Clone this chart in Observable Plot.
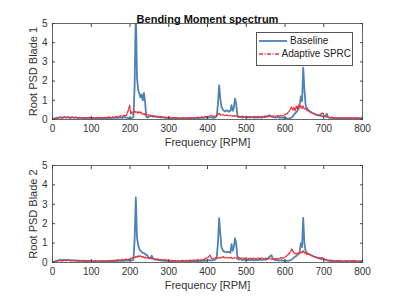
<!DOCTYPE html>
<html><head><meta charset="utf-8">
<script src="https://cdn.jsdelivr.net/npm/d3@7"></script>
<script src="https://cdn.jsdelivr.net/npm/@observablehq/plot@0.6"></script>
<style>
body{margin:0;background:#fff;font-family:"Liberation Sans",Arial,sans-serif;}
#wrap{position:relative;width:399px;height:299px;}
#wrap svg{display:block;}
.legend{position:absolute;left:256px;top:32px;width:95px;height:32px;border:1px solid #555;background:#fff;font-size:10px;color:#222;}
.legend .row{position:absolute;left:2px;width:92px;height:13px;display:flex;align-items:center;white-space:nowrap;}
.legend .row span{margin-left:3px;white-space:nowrap;}
</style></head>
<body><div id="wrap"></div>
<script>
const title = "Bending Moment spectrum";
const xLabel = "Frequency [RPM]";
const yLabels = ["Root PSD Blade 1", "Root PSD Blade 2"];
const seriesNames = ["Baseline", "Adaptive SPRC"];
const xTicks = [0,100,200,300,400,500,600,700,800];
const yTicks = [0,1,2,3,4,5];
const colors = ["#4f81b3", "#e8353c"];

const blade1Baseline = [[0,0.02],[5,0.05],[10,0.08],[15,0.1],[20,0.12],[25,0.1],[30,0.13],[35,0.11],[40,0.12],[45,0.09],[50,0.12],[55,0.1],[60,0.11],[65,0.08],[70,0.1],[75,0.09],[80,0.07],[85,0.09],[90,0.08],[95,0.1],[100,0.07],[105,0.08],[110,0.06],[115,0.08],[120,0.07],[125,0.06],[130,0.08],[135,0.06],[140,0.07],[145,0.08],[150,0.06],[155,0.09],[160,0.08],[165,0.1],[170,0.09],[175,0.11],[180,0.09],[185,0.12],[190,0.1],[195,0.08],[200,0.06],[205,0.07],[209,0.15],[212,1.8],[215,5.8],[218,2.2],[221,1.55],[224,1.35],[227,1.15],[230,1.3],[233,1.0],[236,1.38],[239,0.9],[242,0.15],[246,0.1],[250,0.16],[255,0.2],[260,0.14],[265,0.18],[270,0.12],[275,0.15],[280,0.1],[285,0.12],[290,0.08],[295,0.09],[300,0.07],[305,0.08],[310,0.06],[315,0.07],[320,0.05],[325,0.06],[330,0.05],[335,0.06],[340,0.05],[345,0.07],[350,0.06],[355,0.07],[360,0.06],[365,0.08],[370,0.07],[375,0.09],[380,0.07],[385,0.1],[390,0.08],[395,0.11],[400,0.09],[405,0.12],[410,0.1],[415,0.08],[420,0.1],[424,0.2],[427,0.8],[430,1.78],[433,1.1],[436,0.65],[440,0.5],[445,0.42],[450,0.48],[455,0.4],[459,0.45],[462,0.75],[465,0.45],[468,0.6],[471,1.08],[474,0.85],[477,0.2],[480,0.12],[485,0.14],[490,0.1],[495,0.13],[500,0.09],[505,0.12],[510,0.1],[515,0.13],[520,0.09],[525,0.11],[530,0.1],[535,0.12],[540,0.09],[545,0.14],[550,0.12],[555,0.18],[560,0.22],[565,0.15],[570,0.12],[575,0.1],[580,0.13],[585,0.09],[590,0.11],[595,0.08],[600,0.1],[605,0.06],[610,0.05],[615,0.08],[620,0.15],[625,0.3],[630,0.4],[635,0.55],[638,0.8],[641,1.2],[644,0.95],[647,2.7],[650,1.6],[653,0.8],[656,0.6],[660,0.5],[665,0.42],[670,0.35],[675,0.3],[680,0.25],[685,0.22],[690,0.2],[695,0.18],[700,0.15],[705,0.2],[708,0.3],[711,0.12],[715,0.08],[720,0.1],[725,0.07],[730,0.06],[735,0.08],[740,0.05],[745,0.06],[750,0.05],[755,0.07],[760,0.05],[765,0.06],[770,0.05],[775,0.06],[780,0.05],[785,0.07],[790,0.05],[795,0.06],[800,0.05]];

const blade1Adaptive = [[0,0.02],[5,0.04],[10,0.06],[15,0.08],[20,0.1],[25,0.07],[30,0.11],[35,0.09],[40,0.12],[45,0.08],[50,0.1],[55,0.09],[60,0.11],[65,0.07],[70,0.09],[75,0.1],[80,0.08],[85,0.1],[90,0.07],[95,0.09],[100,0.08],[105,0.1],[110,0.07],[115,0.09],[120,0.08],[125,0.1],[130,0.09],[135,0.11],[140,0.1],[145,0.13],[150,0.1],[155,0.14],[160,0.12],[165,0.16],[170,0.13],[175,0.2],[180,0.15],[185,0.22],[190,0.18],[193,0.35],[196,0.5],[199,0.75],[202,0.3],[205,0.4],[208,0.28],[211,0.45],[214,0.38],[217,0.42],[220,0.32],[223,0.4],[226,0.35],[229,0.38],[232,0.27],[235,0.33],[238,0.25],[241,0.3],[245,0.22],[250,0.25],[255,0.18],[260,0.2],[265,0.15],[270,0.17],[275,0.13],[280,0.15],[285,0.11],[290,0.13],[295,0.1],[300,0.12],[305,0.09],[310,0.11],[315,0.08],[320,0.1],[325,0.09],[330,0.07],[335,0.09],[340,0.08],[345,0.1],[350,0.07],[355,0.09],[360,0.08],[365,0.1],[370,0.09],[375,0.12],[380,0.1],[385,0.14],[390,0.11],[395,0.16],[400,0.13],[405,0.18],[410,0.22],[415,0.15],[420,0.18],[425,0.2],[430,0.32],[435,0.22],[440,0.25],[445,0.2],[450,0.24],[455,0.18],[460,0.22],[465,0.17],[470,0.2],[475,0.15],[480,0.18],[485,0.14],[490,0.17],[495,0.13],[500,0.16],[505,0.12],[510,0.15],[515,0.13],[520,0.17],[525,0.14],[530,0.16],[535,0.13],[540,0.17],[545,0.15],[550,0.18],[555,0.14],[560,0.17],[565,0.15],[570,0.19],[575,0.16],[580,0.2],[585,0.17],[590,0.22],[595,0.18],[600,0.25],[605,0.3],[610,0.4],[614,0.55],[617,0.65],[620,0.5],[623,0.62],[626,0.45],[629,0.7],[632,0.55],[635,0.75],[638,0.6],[641,0.72],[644,0.58],[647,0.7],[650,0.55],[653,0.6],[656,0.48],[660,0.45],[665,0.38],[670,0.33],[675,0.3],[680,0.25],[685,0.22],[690,0.25],[695,0.3],[698,0.36],[701,0.2],[705,0.15],[710,0.12],[715,0.1],[720,0.12],[725,0.09],[730,0.1],[735,0.08],[740,0.1],[745,0.07],[750,0.09],[755,0.08],[760,0.1],[765,0.07],[770,0.09],[775,0.08],[780,0.1],[785,0.07],[790,0.09],[795,0.08],[800,0.09]];

const blade2Baseline = [[0,0.02],[5,0.05],[10,0.08],[15,0.11],[20,0.13],[25,0.12],[30,0.14],[35,0.12],[40,0.13],[45,0.11],[50,0.12],[55,0.1],[60,0.11],[65,0.09],[70,0.1],[75,0.08],[80,0.09],[85,0.07],[90,0.08],[95,0.06],[100,0.07],[105,0.06],[110,0.05],[115,0.06],[120,0.05],[125,0.06],[130,0.05],[135,0.06],[140,0.05],[145,0.07],[150,0.06],[155,0.07],[160,0.08],[165,0.07],[170,0.09],[175,0.08],[180,0.1],[185,0.09],[190,0.11],[195,0.1],[200,0.12],[205,0.1],[209,0.15],[212,1.2],[215,3.35],[218,1.3],[221,0.9],[224,0.7],[227,0.6],[230,0.55],[233,0.5],[236,0.48],[240,0.42],[244,0.38],[248,0.25],[252,0.2],[256,0.35],[260,0.18],[265,0.15],[270,0.13],[275,0.12],[280,0.1],[285,0.11],[290,0.09],[295,0.08],[300,0.07],[305,0.06],[310,0.05],[315,0.05],[320,0.04],[325,0.05],[330,0.04],[335,0.05],[340,0.04],[345,0.05],[350,0.06],[355,0.05],[360,0.06],[365,0.07],[370,0.06],[375,0.08],[380,0.07],[385,0.09],[390,0.1],[395,0.09],[400,0.11],[405,0.12],[410,0.1],[415,0.13],[420,0.15],[424,0.3],[427,1.0],[430,2.28],[433,1.5],[436,0.8],[440,0.6],[445,0.55],[450,0.52],[455,0.55],[459,0.5],[462,0.95],[465,0.6],[468,0.8],[471,1.25],[474,1.0],[477,0.3],[480,0.15],[485,0.18],[490,0.12],[495,0.15],[500,0.11],[505,0.14],[510,0.12],[515,0.15],[520,0.11],[525,0.14],[530,0.12],[535,0.15],[540,0.13],[545,0.16],[550,0.14],[555,0.18],[560,0.3],[565,0.38],[568,0.2],[572,0.15],[576,0.12],[580,0.14],[585,0.1],[590,0.12],[595,0.09],[600,0.1],[605,0.08],[610,0.1],[615,0.12],[620,0.2],[625,0.28],[630,0.35],[635,0.45],[638,0.55],[641,1.0],[644,0.8],[647,2.3],[650,1.0],[653,0.6],[656,0.5],[660,0.45],[665,0.4],[670,0.35],[675,0.3],[680,0.27],[685,0.22],[690,0.2],[695,0.18],[700,0.15],[705,0.13],[710,0.1],[715,0.08],[720,0.07],[725,0.06],[730,0.05],[735,0.06],[740,0.05],[745,0.06],[750,0.04],[755,0.05],[760,0.04],[765,0.05],[770,0.04],[775,0.05],[780,0.04],[785,0.05],[790,0.04],[795,0.05],[800,0.04]];

const blade2Adaptive = [[0,0.02],[5,0.04],[10,0.07],[15,0.09],[20,0.1],[25,0.08],[30,0.11],[35,0.09],[40,0.12],[45,0.1],[50,0.09],[55,0.11],[60,0.08],[65,0.1],[70,0.07],[75,0.09],[80,0.08],[85,0.1],[90,0.07],[95,0.09],[100,0.08],[105,0.07],[110,0.09],[115,0.08],[120,0.1],[125,0.07],[130,0.09],[135,0.08],[140,0.1],[145,0.09],[150,0.11],[155,0.1],[160,0.12],[165,0.11],[170,0.14],[175,0.12],[180,0.16],[185,0.13],[190,0.18],[195,0.15],[200,0.2],[205,0.22],[210,0.28],[213,0.25],[216,0.33],[219,0.27],[222,0.35],[225,0.3],[228,0.34],[231,0.26],[234,0.3],[237,0.24],[240,0.28],[245,0.22],[250,0.25],[255,0.2],[260,0.22],[265,0.17],[270,0.19],[275,0.15],[280,0.16],[285,0.12],[290,0.14],[295,0.11],[300,0.12],[305,0.09],[310,0.11],[315,0.08],[320,0.1],[325,0.09],[330,0.08],[335,0.1],[340,0.09],[345,0.11],[350,0.09],[355,0.12],[360,0.1],[365,0.13],[370,0.11],[375,0.14],[380,0.12],[385,0.16],[390,0.14],[395,0.2],[400,0.25],[404,0.32],[407,0.38],[410,0.22],[415,0.2],[420,0.24],[425,0.2],[430,0.28],[435,0.22],[440,0.3],[445,0.24],[450,0.27],[455,0.22],[460,0.26],[465,0.2],[470,0.25],[475,0.2],[480,0.27],[485,0.21],[490,0.25],[495,0.2],[500,0.24],[505,0.19],[510,0.23],[515,0.18],[520,0.22],[525,0.19],[530,0.23],[535,0.2],[540,0.24],[545,0.2],[550,0.22],[555,0.18],[560,0.21],[565,0.17],[570,0.2],[575,0.18],[580,0.22],[585,0.2],[590,0.25],[595,0.22],[600,0.28],[605,0.35],[610,0.45],[614,0.55],[617,0.7],[620,0.6],[623,0.5],[626,0.45],[629,0.5],[632,0.42],[635,0.5],[638,0.45],[641,0.55],[644,0.5],[647,0.6],[650,0.48],[653,0.52],[656,0.42],[660,0.45],[665,0.38],[670,0.35],[675,0.3],[680,0.28],[685,0.25],[690,0.22],[695,0.25],[700,0.2],[705,0.15],[710,0.12],[715,0.1],[720,0.12],[725,0.09],[730,0.1],[735,0.08],[740,0.1],[745,0.08],[750,0.09],[755,0.07],[760,0.09],[765,0.08],[770,0.1],[775,0.08],[780,0.09],[785,0.07],[790,0.09],[795,0.08],[800,0.09]];

const axisColor = "#444";
const redDash = "4,1.5,1,1.5";
function panel(baseline, adaptive, yLabel, opts) {
  const marks = [
    Plot.line(baseline, {x: d => d[0], y: d => d[1], stroke: colors[0], strokeWidth: 1.8, clip: true}),
    Plot.line(adaptive, {x: d => d[0], y: d => d[1], stroke: colors[1], strokeWidth: 1.4, strokeDasharray: redDash, clip: true}),
    Plot.frame({stroke: axisColor, strokeWidth: 0.8}),
    Plot.axisX(xTicks, {anchor: "bottom", tickSize: 0, tickPadding: 5, label: null, fontSize: 10, fill: "#333"}),
    Plot.axisX(xTicks, {anchor: "bottom", tickSize: -3, text: null, stroke: axisColor, label: null}),
    Plot.axisX(xTicks, {anchor: "top", tickSize: -3, text: null, stroke: axisColor, label: null}),
    Plot.axisY(yTicks, {anchor: "left", tickSize: 0, tickPadding: 5, label: null, fontSize: 10, fill: "#333"}),
    Plot.axisY(yTicks, {anchor: "left", tickSize: -3, text: null, stroke: axisColor, label: null}),
    Plot.axisY(yTicks, {anchor: "right", tickSize: -3, text: null, stroke: axisColor, label: null}),
    Plot.text([xLabel], {frameAnchor: "bottom", dy: 26, fontSize: 11, fill: "#333"}),
    Plot.text([yLabel], {frameAnchor: "left", textAnchor: "middle", dx: -19, rotate: -90, fontSize: 11, fill: "#333"})
  ];
  if (opts.title) marks.push(Plot.text([opts.title], {frameAnchor: "top", dy: -8, fontSize: 11, fontWeight: "bold", fill: "#111"}));
  return Plot.plot({
    width: 399, height: opts.height,
    marginLeft: 52, marginRight: 37, marginTop: opts.mt, marginBottom: opts.mb,
    style: {fontFamily: '"Liberation Sans", Arial, sans-serif', background: "#fff", overflow: "visible"},
    x: {domain: [0, 800]},
    y: {domain: [0, 5]},
    marks
  });
}

const wrap = document.getElementById("wrap");
wrap.appendChild(panel(blade1Baseline, blade1Adaptive, yLabels[0], {height: 150, mt: 23, mb: 31, title}));
wrap.appendChild(panel(blade2Baseline, blade2Adaptive, yLabels[1], {height: 149, mt: 15, mb: 37}));

const legend = document.createElement("div");
legend.className = "legend";
seriesNames.forEach((name, i) => {
  const row = document.createElement("div");
  row.className = "row";
  row.style.top = (i === 0 ? 1 : 14) + "px";
  const dash = i === 0 ? "" : `stroke-dasharray="${redDash}"`;
  row.innerHTML = `<svg width="28" height="6"><line x1="0" y1="3" x2="28" y2="3" stroke="${colors[i]}" stroke-width="${i === 0 ? 1.8 : 1.4}" ${dash}/></svg><span>${name}</span>`;
  legend.appendChild(row);
});
wrap.appendChild(legend);
</script>
</body></html>
